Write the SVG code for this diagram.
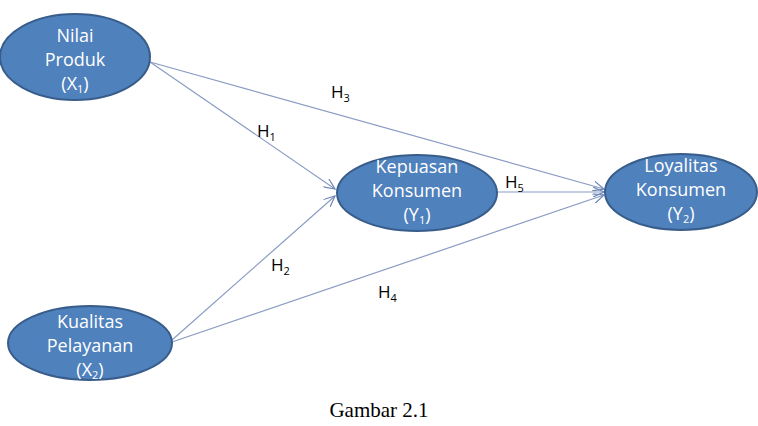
<svg xmlns="http://www.w3.org/2000/svg" width="758" height="426" viewBox="0 0 758 426">
<defs>
<style>
.node{fill:#4F81BD;stroke:#385D8A;stroke-width:2}
.nt{fill:#fff;font-family:"Open Sans","Liberation Sans",sans-serif;font-size:18px;text-anchor:middle}
.lbl{fill:#000;font-family:"Open Sans","Liberation Sans",sans-serif;font-size:17px}
.edge{stroke:#8A9CC4;stroke-width:1.2;fill:none;marker-end:url(#arr)}
</style>
<marker id="arr" viewBox="0 0 12 10" refX="11" refY="5" markerWidth="12" markerHeight="10" markerUnits="userSpaceOnUse" orient="auto">
<path d="M0,0 L11,5 L0,10" fill="none" stroke="#6E86B8" stroke-width="1.2"/>
</marker>
</defs>
<rect width="758" height="426" fill="#fff"/>
<g id="connectors">
<line class="edge" x1="150" y1="62" x2="335" y2="189"/>
<line class="edge" x1="150" y1="62" x2="604" y2="189"/>
<line class="edge" x1="172" y1="340" x2="335" y2="196"/>
<line class="edge" x1="172" y1="342" x2="604" y2="195"/>
<line class="edge" x1="497" y1="192" x2="604" y2="192"/>
</g>
<g id="labels">
<text class="lbl" x="331" y="98">H<tspan font-size="11" dy="4">3</tspan></text>
<text class="lbl" x="257" y="137">H<tspan font-size="11" dy="4">1</tspan></text>
<text class="lbl" x="505" y="188">H<tspan font-size="11" dy="4">5</tspan></text>
<text class="lbl" x="271" y="271">H<tspan font-size="11" dy="4">2</tspan></text>
<text class="lbl" x="378" y="298">H<tspan font-size="11" dy="4">4</tspan></text>
</g>
<g id="x1">
<ellipse class="node" cx="75" cy="57" rx="75" ry="43"/>
<text class="nt" x="75" y="42">Nilai</text>
<text class="nt" x="75" y="66">Produk</text>
<text class="nt" x="75" y="90">(X<tspan font-size="11" dy="3">1</tspan><tspan dy="-3">)</tspan></text>
</g>
<g id="x2">
<ellipse class="node" cx="90" cy="343" rx="82" ry="37"/>
<text class="nt" x="90" y="328">Kualitas</text>
<text class="nt" x="90" y="352">Pelayanan</text>
<text class="nt" x="90" y="376">(X<tspan font-size="11" dy="3">2</tspan><tspan dy="-3">)</tspan></text>
</g>
<g id="y1">
<ellipse class="node" cx="417" cy="193" rx="80" ry="38"/>
<text class="nt" x="417" y="173">Kepuasan</text>
<text class="nt" x="417" y="197">Konsumen</text>
<text class="nt" x="417" y="221">(Y<tspan font-size="11" dy="3">1</tspan><tspan dy="-3">)</tspan></text>
</g>
<g id="y2">
<ellipse class="node" cx="681" cy="192" rx="76" ry="38"/>
<text class="nt" x="681" y="172">Loyalitas</text>
<text class="nt" x="681" y="196">Konsumen</text>
<text class="nt" x="681" y="220">(Y<tspan font-size="11" dy="3">2</tspan><tspan dy="-3">)</tspan></text>
</g>
<text x="379" y="417" font-family="Liberation Serif,serif" font-size="21" text-anchor="middle" fill="#000">Gambar 2.1</text>
</svg>
